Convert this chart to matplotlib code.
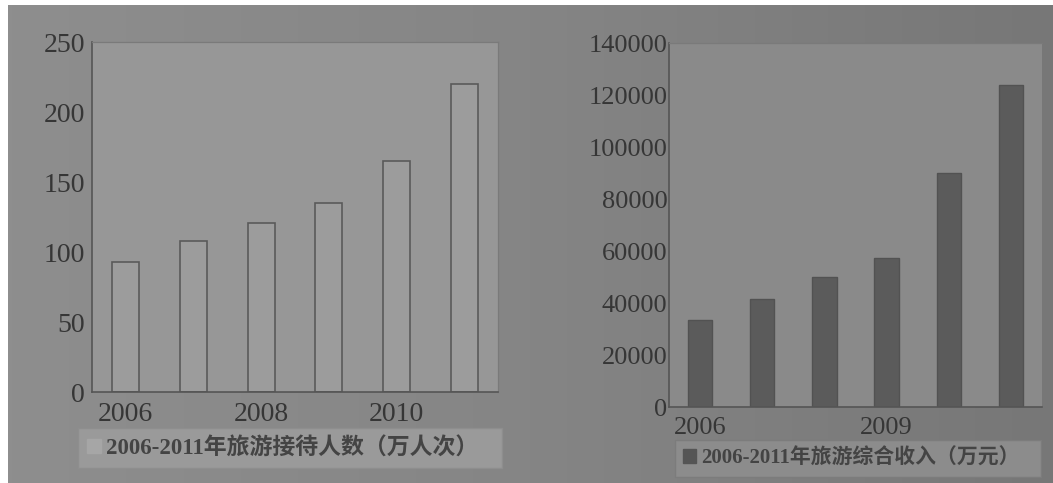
import numpy as np
import matplotlib
matplotlib.use("Agg")
import matplotlib.pyplot as plt
from matplotlib.patches import Patch

years = [2006, 2007, 2008, 2009, 2010, 2011]
visitors = [93, 108, 121, 135, 165, 220]            # 万人次
revenue = [33500, 41500, 50000, 57500, 90000, 124000]  # 万元

visitors_label = "2006-2011年旅游接待人数（万人次）"
revenue_label = "2006-2011年旅游综合收入（万元）"
visitors_ticks = [2006, 2008, 2010]
revenue_ticks = [2006, 2009]

FONT = ["Liberation Serif", "Noto Sans CJK SC", "DejaVu Sans"]
INK = "#363636"

plt.rcParams["font.family"] = FONT

fig = plt.figure(figsize=(10.53, 4.83), dpi=100, facecolor="white")

# grey paper backdrop, a bit darker towards the right
bg = fig.add_axes([8 / 1053, 0, 1 - 8 / 1053, 1 - 5 / 483])
grad = np.linspace(0, 1, 256)[None, :]
bg.imshow(grad, aspect="auto", cmap=matplotlib.colors.LinearSegmentedColormap.from_list(
    "paper", ["#8e8e8e", "#858585", "#777777"]), extent=[0, 1, 0, 1])
bg.set_axis_off()


def style_axes(ax, face, size):
    ax.set_facecolor(face)
    for side in ["left", "bottom"]:
        ax.spines[side].set_color("#555555")
        ax.spines[side].set_linewidth(1.2)
    for side in ["top", "right"]:
        ax.spines[side].set_color("#7a7a7a")
        ax.spines[side].set_linewidth(0.9)
    ax.tick_params(axis="both", length=0, colors=INK, labelsize=size)
    ax.tick_params(axis="y", pad=5)
    ax.tick_params(axis="x", pad=7)
    ax.set_xlim(-0.5, len(years) - 0.5)


def add_legend(ax, handle_color, label, anchor, size, face, edge):
    leg = ax.legend(handles=[Patch(facecolor=handle_color, edgecolor=handle_color)],
                    labels=[label], loc="upper left", bbox_to_anchor=anchor,
                    mode="expand", borderaxespad=0, frameon=True, fancybox=False,
                    handlelength=0.6, handleheight=0.6, handletextpad=0.25,
                    borderpad=0.4, prop={"size": size, "weight": "bold"})
    frame = leg.get_frame()
    frame.set_facecolor(face)
    frame.set_edgecolor(edge)
    frame.set_alpha(1)
    for t in leg.get_texts():
        t.set_color("#444444")
    return leg


x = np.arange(len(years))

# left: visitor numbers
ax1 = fig.add_axes([92 / 1053, 1 - 392 / 483, 406 / 1053, 350 / 483])
style_axes(ax1, "#979797", 20)
ax1.bar(x, visitors, width=0.4, color="#9c9c9c", edgecolor="#5a5a5a", linewidth=1.2)
ax1.set_ylim(0, 250)
ax1.set_yticks(np.arange(0, 251, 50))
ax1.set_xticks([years.index(y) for y in visitors_ticks])
ax1.set_xticklabels([str(y) for y in visitors_ticks])
add_legend(ax1, "#a6a6a6", visitors_label, (-0.035, -0.2, 1.045, 0.097), 16.5,
           "#9a9a9a", "#8e8e8e")

# right: tourism revenue
ax2 = fig.add_axes([669 / 1053, 1 - 407 / 483, 373 / 1053, 364 / 483])
style_axes(ax2, "#8a8a8a", 19)
ax2.tick_params(axis="y", pad=1)
ax2.spines["right"].set_visible(False)
ax2.bar(x, revenue, width=0.39, color="#5b5b5b", edgecolor="#525252", linewidth=1)
ax2.set_ylim(0, 140000)
ax2.set_yticks(np.arange(0, 140001, 20000))
ax2.set_xticks([years.index(y) for y in revenue_ticks])
ax2.set_xticklabels([str(y) for y in revenue_ticks])
add_legend(ax2, "#555555", revenue_label, (0.016, -0.17, 0.98, 0.08), 15,
           "#8c8c8c", "#7c7c7c")

fig.savefig("out.png", dpi=100, facecolor=fig.get_facecolor())
